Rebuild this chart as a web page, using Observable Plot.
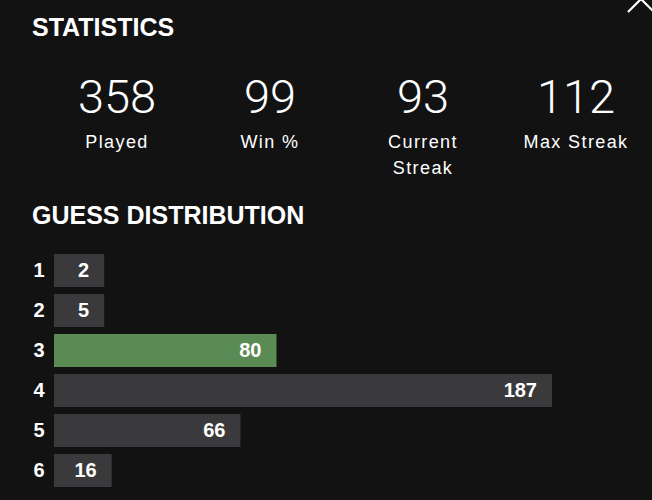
<!DOCTYPE html>
<html>
<head>
<meta charset="utf-8">
<script src="https://cdn.jsdelivr.net/npm/d3@7"></script>
<script src="https://cdn.jsdelivr.net/npm/@observablehq/plot@0.6"></script>
<style>
  html, body { margin: 0; padding: 0; background: #121213; }
  body { width: 652px; height: 500px; overflow: hidden; position: relative; font-family: "Liberation Sans", Arial, sans-serif; color: #ffffff; }
  #header { position: relative; width: 652px; height: 240px; }
  .h { position: absolute; left: 32px; font-weight: bold; font-size: 25px; line-height: 1; margin: 0; }
  .stat { position: absolute; width: 150px; text-align: center; }
  .num { position: absolute; left: 0; width: 150px; top: 0; font-family: Roboto, sans-serif; font-weight: 300; font-size: 47px; line-height: 45px; text-align: center; }
  .lab { position: absolute; left: -10px; width: 170px; top: 55px; font-size: 18px; line-height: 26px; letter-spacing: 1.4px; text-align: center; }
  #close { position: absolute; left: 626px; top: -14px; }
  #chart { position: absolute; left: 0; top: 240px; }
</style>
</head>
<body>
<div id="header"></div>
<div id="chart"></div>
<script>
// Data
const statValues = [358, 99, 93, 112];
const statLabels = ["Played", "Win %", "Current<br>Streak", "Max Streak"];
const guesses = [1, 2, 3, 4, 5, 6];
const counts = [2, 5, 80, 187, 66, 16];
const lastGuess = 3;

// Header (title, stats, section title)
const header = document.getElementById("header");
header.innerHTML = `
  <div class="h" style="top:15px">STATISTICS</div>
  <div class="h" style="top:203px">GUESS DISTRIBUTION</div>
  <svg id="close" width="30" height="30" viewBox="0 0 30 30"><path d="M2,26 L15,13 L28,26" stroke="#fff" stroke-width="2.2" fill="none"/></svg>
`;
const centers = [117, 270, 423, 576];
statValues.forEach((v, i) => {
  const d = document.createElement("div");
  d.className = "stat";
  d.style.left = (centers[i] - 75) + "px";
  d.style.top = "74px";
  d.innerHTML = `<div class="num">${v}</div><div class="lab">${statLabels[i]}</div>`;
  header.appendChild(d);
});

// Guess distribution chart
const maxCount = d3.max(counts);
const data = guesses.map((g, i) => ({
  guess: g,
  count: counts[i],
  end: Math.max(counts[i], maxCount * 0.07),
  last: g === lastGuess
}));

const chart = Plot.plot({
  width: 652,
  height: 260,
  marginLeft: 54,
  marginRight: 0,
  marginTop: 0,
  marginBottom: 0,
  style: { background: "transparent", color: "#ffffff", fontFamily: "'Liberation Sans', Arial, sans-serif" },
  x: { domain: [0, maxCount], range: [70.5, 552], axis: null },
  y: { domain: guesses, range: [8, 253], paddingInner: 0.184, paddingOuter: 0.092, label: null },
  marks: [
    Plot.barX(data, {
      x1: 0,
      x2: "end",
      y: "guess",
      fill: d => d.last ? "#5b8b55" : "#3a3a3c",
      insetLeft: -16.5
    }),
    Plot.text(data, {
      x: "end",
      y: "guess",
      text: d => String(d.count),
      textAnchor: "end",
      dx: -15.5,
      fill: "#ffffff",
      fontSize: 20,
      fontWeight: "bold"
    }),
    Plot.axisY({ tickSize: 0, tickPadding: 10, fontSize: 20, fontWeight: "bold", fill: "#ffffff", label: null })
  ]
});
document.getElementById("chart").appendChild(chart);
</script>
</body>
</html>
